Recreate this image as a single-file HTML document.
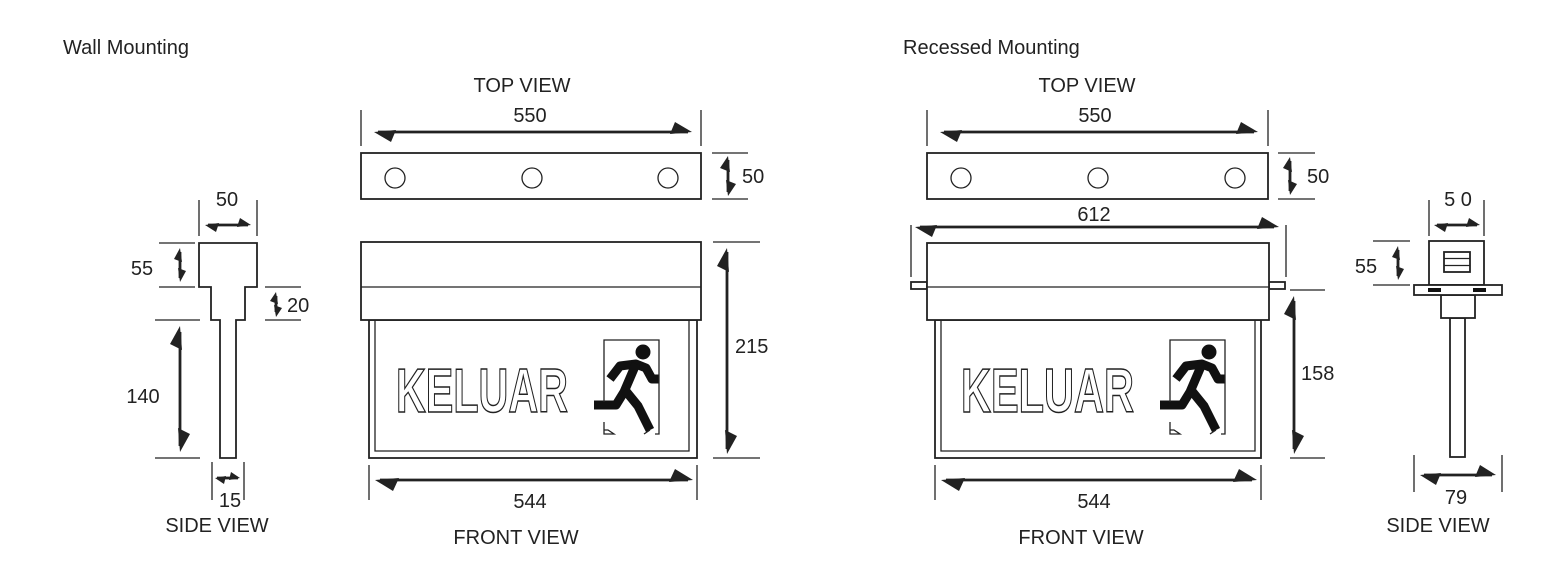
<!DOCTYPE html>
<html><head><meta charset="utf-8"><style>
html,body{margin:0;padding:0;background:#fff;}
svg{display:block;}
text{font-family:"Liberation Sans",sans-serif;fill:#222;font-size:20px;}
.ln{stroke:#222;stroke-width:1.3;fill:none;}
.bx{stroke:#222;stroke-width:1.8;fill:#fff;}
.ar{stroke:#222;stroke-width:2.8;fill:none;}
.hd{fill:#222;}
.kel{font-size:62px;font-weight:bold;fill:#fff;stroke:#222;stroke-width:1.5;}
.man{stroke:#111;stroke-width:9;fill:none;stroke-linejoin:round;}
</style></head><body>
<svg width="1555" height="569" viewBox="0 0 1555 569" xmlns="http://www.w3.org/2000/svg">
<defs>
<g id="man">
  <circle cx="643" cy="352" r="7.5" fill="#111"/>
  <polyline class="man" points="610,379 620,366 636,364 646,368 652,379 659,379"/>
  <polyline class="man" points="636,364 624,392 616,405 594,405"/>
  <polyline class="man" points="625,390 638,406 650,430"/>
  <polyline class="ln" points="604,402 604,340 659,340 659,434 655,434"/>
  <polyline class="ln" points="604,422 604,434 614,434 608,430 604,430"/>
  <polyline class="ln" points="644,434 650,430"/>
</g>
</defs>

<text x="63" y="54">Wall Mounting</text>
<text x="903" y="54">Recessed Mounting</text>

<!-- ===== LEFT TOP VIEW ===== -->
<text x="522" y="92" text-anchor="middle">TOP VIEW</text>
<text x="530" y="122" text-anchor="middle">550</text>
<line class="ln" x1="361" y1="110" x2="361" y2="146"/>
<line class="ln" x1="701" y1="110" x2="701" y2="146"/>
<line class="ar" x1="378" y1="132" x2="688" y2="132"/>
<polygon class="hd" points="374,132 396,130 391,142"/>
<polygon class="hd" points="692,132 670,134 675,122"/>
<rect class="bx" x="361" y="153" width="340" height="46"/>
<circle class="ln" cx="395" cy="178" r="10"/>
<circle class="ln" cx="532" cy="178" r="10"/>
<circle class="ln" cx="668" cy="178" r="10"/>
<line class="ln" x1="712" y1="153" x2="748" y2="153"/>
<line class="ln" x1="712" y1="199" x2="748" y2="199"/>
<line class="ar" x1="728" y1="160" x2="728" y2="192"/>
<polygon class="hd" points="728,156 730,172 720,168"/>
<polygon class="hd" points="728,196 726,180 736,184"/>
<text x="742" y="183">50</text>

<!-- LEFT FRONT VIEW -->
<rect class="bx" x="369" y="320" width="328" height="138"/>
<polyline class="ln" points="375,320 375,451 689,451 689,320"/>
<rect class="bx" x="361" y="242" width="340" height="78"/>
<line class="ln" x1="361" y1="287" x2="701" y2="287"/>
<text class="kel" x="396" y="412" textLength="172" lengthAdjust="spacingAndGlyphs">KELUAR</text>
<use href="#man"/>
<line class="ln" x1="713" y1="242" x2="760" y2="242"/>
<line class="ln" x1="713" y1="458" x2="760" y2="458"/>
<line class="ar" x1="727" y1="252" x2="727" y2="449"/>
<polygon class="hd" points="727,248 729,272 717,266"/>
<polygon class="hd" points="727,454 725,430 737,436"/>
<text x="735" y="353">215</text>
<line class="ln" x1="369" y1="465" x2="369" y2="500"/>
<line class="ln" x1="697" y1="465" x2="697" y2="500"/>
<line class="ar" x1="380" y1="480" x2="688" y2="480"/>
<polygon class="hd" points="375,480 399,478 393,491"/>
<polygon class="hd" points="693,480 669,482 675,469"/>
<text x="530" y="508" text-anchor="middle">544</text>
<text x="516" y="544" text-anchor="middle">FRONT VIEW</text>

<!-- LEFT SIDE VIEW -->
<polygon class="bx" points="199,243 257,243 257,287 245,287 245,320 236,320 236,458 220,458 220,320 211,320 211,287 199,287"/>
<line class="ln" x1="199" y1="200" x2="199" y2="236"/>
<line class="ln" x1="257" y1="200" x2="257" y2="236"/>
<line class="ar" x1="208" y1="225" x2="248" y2="225"/>
<polygon class="hd" points="205,225 219,223 216,232"/>
<polygon class="hd" points="251,225 237,227 240,218"/>
<text x="227" y="206" text-anchor="middle">50</text>
<line class="ln" x1="159" y1="243" x2="195" y2="243"/>
<line class="ln" x1="159" y1="287" x2="195" y2="287"/>
<line class="ar" x1="180" y1="252" x2="180" y2="278"/>
<polygon class="hd" points="180,248 182,262 174,259"/>
<polygon class="hd" points="180,282 178,268 186,271"/>
<text x="142" y="275" text-anchor="middle">55</text>
<line class="ln" x1="265" y1="287" x2="301" y2="287"/>
<line class="ln" x1="265" y1="320" x2="301" y2="320"/>
<line class="ar" x1="276" y1="296" x2="276" y2="312"/>
<polygon class="hd" points="276,292 278,304 270,301"/>
<polygon class="hd" points="276,317 274,305 282,308"/>
<text x="287" y="312">20</text>
<line class="ln" x1="155" y1="320" x2="200" y2="320"/>
<line class="ln" x1="155" y1="458" x2="200" y2="458"/>
<line class="ar" x1="180" y1="332" x2="180" y2="446"/>
<polygon class="hd" points="180,326 182,350 170,344"/>
<polygon class="hd" points="180,452 178,428 190,434"/>
<text x="143" y="403" text-anchor="middle">140</text>
<line class="ln" x1="212" y1="462" x2="212" y2="500"/>
<line class="ln" x1="244" y1="462" x2="244" y2="500"/>
<line class="ar" x1="217" y1="478" x2="238" y2="478"/>
<polygon class="hd" points="215,478 226,476 224,484"/>
<polygon class="hd" points="240,478 229,480 231,472"/>
<text x="230" y="507" text-anchor="middle">15</text>
<text x="217" y="532" text-anchor="middle">SIDE VIEW</text>

<!-- ===== RIGHT TOP VIEW ===== -->
<text x="1087" y="92" text-anchor="middle">TOP VIEW</text>
<text x="1095" y="122" text-anchor="middle">550</text>
<line class="ln" x1="927" y1="110" x2="927" y2="146"/>
<line class="ln" x1="1268" y1="110" x2="1268" y2="146"/>
<line class="ar" x1="944" y1="132" x2="1254" y2="132"/>
<polygon class="hd" points="940,132 962,130 957,142"/>
<polygon class="hd" points="1258,132 1236,134 1241,122"/>
<rect class="bx" x="927" y="153" width="341" height="46"/>
<circle class="ln" cx="961" cy="178" r="10"/>
<circle class="ln" cx="1098" cy="178" r="10"/>
<circle class="ln" cx="1235" cy="178" r="10"/>
<line class="ln" x1="1278" y1="153" x2="1315" y2="153"/>
<line class="ln" x1="1278" y1="199" x2="1315" y2="199"/>
<line class="ar" x1="1290" y1="161" x2="1290" y2="191"/>
<polygon class="hd" points="1290,157 1292,172 1283,168"/>
<polygon class="hd" points="1290,195 1288,180 1297,184"/>
<text x="1307" y="183">50</text>

<!-- RIGHT FRONT VIEW -->
<text x="1094" y="221" text-anchor="middle">612</text>
<line class="ln" x1="911" y1="225" x2="911" y2="277"/>
<line class="ln" x1="1286" y1="225" x2="1286" y2="277"/>
<line class="ar" x1="920" y1="227" x2="1274" y2="227"/>
<polygon class="hd" points="915,227 937,225 932,237"/>
<polygon class="hd" points="1279,227 1257,229 1262,217"/>
<rect class="bx" x="911" y="282" width="16" height="7"/>
<rect class="bx" x="1269" y="282" width="16" height="7"/>
<rect class="bx" x="935" y="320" width="326" height="138"/>
<polyline class="ln" points="941,320 941,451 1255,451 1255,320"/>
<rect class="bx" x="927" y="243" width="342" height="77"/>
<line class="ln" x1="927" y1="287" x2="1269" y2="287"/>
<text class="kel" x="961" y="412" textLength="173" lengthAdjust="spacingAndGlyphs">KELUAR</text>
<use href="#man" transform="translate(566,0)"/>
<line class="ln" x1="1290" y1="290" x2="1325" y2="290"/>
<line class="ln" x1="1290" y1="458" x2="1325" y2="458"/>
<line class="ar" x1="1294" y1="301" x2="1294" y2="449"/>
<polygon class="hd" points="1294,296 1296,320 1284,314"/>
<polygon class="hd" points="1294,454 1292,430 1304,436"/>
<text x="1301" y="380">158</text>
<line class="ln" x1="935" y1="465" x2="935" y2="500"/>
<line class="ln" x1="1261" y1="465" x2="1261" y2="500"/>
<line class="ar" x1="946" y1="480" x2="1252" y2="480"/>
<polygon class="hd" points="941,480 965,478 959,491"/>
<polygon class="hd" points="1257,480 1233,482 1239,469"/>
<text x="1094" y="508" text-anchor="middle">544</text>
<text x="1081" y="544" text-anchor="middle">FRONT VIEW</text>

<!-- RIGHT SIDE VIEW -->
<rect class="bx" x="1450" y="318" width="15" height="139"/>
<rect class="bx" x="1441" y="295" width="34" height="23"/>
<rect class="bx" x="1429" y="241" width="55" height="44"/>
<rect class="bx" x="1444" y="252" width="26" height="20"/>
<line class="ln" x1="1444" y1="258.5" x2="1470" y2="258.5"/>
<line class="ln" x1="1444" y1="265.5" x2="1470" y2="265.5"/>
<rect class="bx" x="1414" y="285" width="88" height="10"/>
<rect x="1428" y="288" width="13" height="4" fill="#111"/>
<rect x="1473" y="288" width="13" height="4" fill="#111"/>
<line class="ln" x1="1429" y1="200" x2="1429" y2="236"/>
<line class="ln" x1="1484" y1="200" x2="1484" y2="236"/>
<line class="ar" x1="1437" y1="225" x2="1477" y2="225"/>
<polygon class="hd" points="1434,225 1448,223 1445,232"/>
<polygon class="hd" points="1480,225 1466,227 1469,218"/>
<text x="1458" y="206" text-anchor="middle">5 0</text>
<line class="ln" x1="1373" y1="241" x2="1410" y2="241"/>
<line class="ln" x1="1373" y1="285" x2="1410" y2="285"/>
<line class="ar" x1="1398" y1="250" x2="1398" y2="276"/>
<polygon class="hd" points="1398,246 1400,260 1392,257"/>
<polygon class="hd" points="1398,280 1396,266 1404,269"/>
<text x="1366" y="273" text-anchor="middle">55</text>
<line class="ln" x1="1414" y1="455" x2="1414" y2="492"/>
<line class="ln" x1="1502" y1="455" x2="1502" y2="492"/>
<line class="ar" x1="1424" y1="475" x2="1492" y2="475"/>
<polygon class="hd" points="1420,475 1441,473 1436,485"/>
<polygon class="hd" points="1496,475 1475,477 1480,465"/>
<text x="1456" y="504" text-anchor="middle">79</text>
<text x="1438" y="532" text-anchor="middle">SIDE VIEW</text>
</svg>
</body></html>
